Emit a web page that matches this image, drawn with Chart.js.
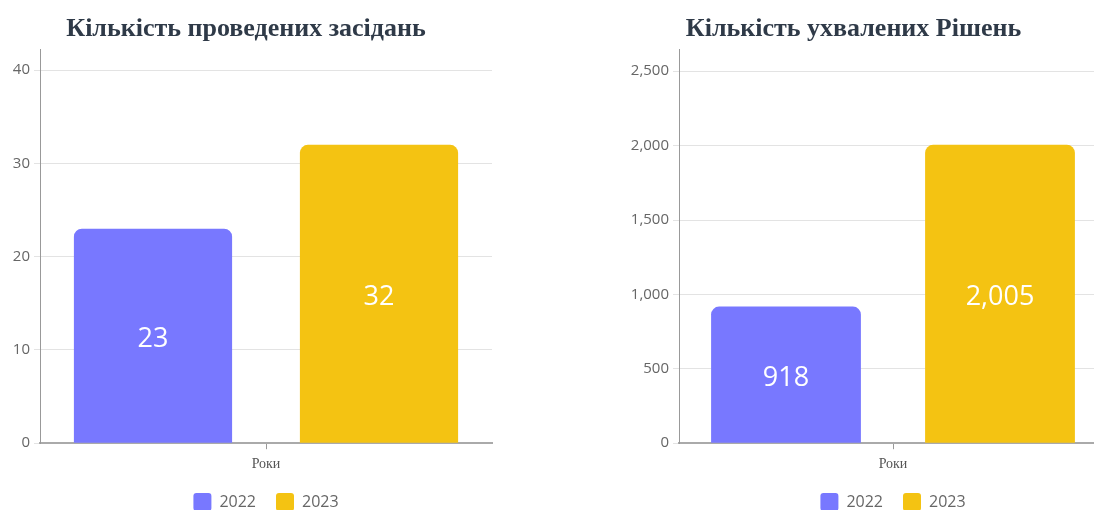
<!DOCTYPE html>
<html lang="uk">
<head>
  <meta charset="UTF-8">
  <title>Засідання та рішення</title>
  <script src="https://cdn.jsdelivr.net/npm/chart.js"></script>
  <style>
    html, body { margin: 0; padding: 0; background: #fff; overflow: hidden; }
    body { width: 1094px; height: 510px; position: relative; }
    .box { position: absolute; top: 0; height: 523px; }
    #left { left: 0; width: 497px; }
    #right { left: 600px; width: 512px; }
  </style>
</head>
<body>
  <div class="box" id="left"><canvas id="meetings-chart"></canvas></div>
  <div class="box" id="right"><canvas id="decisions-chart"></canvas></div>

  <script>
    // data
    const years = ['2022', '2023'];
    const xLabels = [''];
    const meetings = [23, 32];
    const decisions = [918, 2005];
    const meetingTicks = [0, 10, 20, 30, 40];
    const decisionTicks = [0, 500, 1000, 1500, 2000, 2500];
    const colors = ['#7878ff', '#f4c312'];

    // white number in the middle of each bar
    const barLabels = {
      id: 'barLabels',
      afterDatasetsDraw(chart) {
        const ctx = chart.ctx;
        ctx.save();
        ctx.fillStyle = '#ffffff';
        ctx.font = '27px "Open Sans"';
        ctx.textAlign = 'center';
        ctx.textBaseline = 'middle';
        chart.data.datasets.forEach((ds, i) => {
          chart.getDatasetMeta(i).data.forEach((bar, j) => {
            const y = (bar.y + bar.base) / 2 + 4;
            ctx.fillText(ds.data[j].toLocaleString('en-US'), bar.x, y);
          });
        });
        ctx.restore();
      }
    };

    // legend centred under the plot area, not the whole canvas
    const legendUnderPlot = {
      id: 'legendUnderPlot',
      afterLayout(chart) {
        const l = chart.legend;
        const shift = (chart.chartArea.left + chart.chartArea.right) / 2 - (l.left + l.right) / 2;
        l.left += shift;
        l.right += shift;
      }
    };

    function makeChart(id, title, values, ticks, yMax, yWidth) {
      const ctx = document.getElementById(id).getContext('2d');
      return new Chart(ctx, {
        type: 'bar',
        data: {
          labels: xLabels,
          datasets: years.map((y, i) => ({
            label: y,
            data: [values[i]],
            backgroundColor: colors[i],
            borderRadius: { topLeft: 8, topRight: 8 },
            borderSkipped: 'bottom',
            barPercentage: 0.7,
            categoryPercentage: 1.0
          }))
        },
        options: {
          responsive: true,
          maintainAspectRatio: false,
          animation: false,
          layout: { padding: { right: 5, top: 0, bottom: 2 } },
          plugins: {
            title: {
              display: true,
              text: title,
              color: '#2f3a48',
              font: { family: '"Liberation Serif"', size: 26, weight: 'bold' },
              padding: { top: 14, bottom: 4 }
            },
            legend: {
              position: 'bottom',
              labels: {
                color: '#666',
                font: { family: '"Open Sans"', size: 16 },
                boxWidth: 18,
                boxHeight: 18,
                useBorderRadius: true,
                borderRadius: 3,
                padding: 20
              }
            },
            tooltip: { enabled: false }
          },
          scales: {
            x: {
              grid: { drawOnChartArea: false, offset: false, tickLength: 6, color: '#999' },
              border: { color: '#aaa', width: 2 },
              ticks: { display: false },
              title: {
                display: true,
                text: 'Роки',
                color: '#555',
                font: { family: '"Liberation Serif"', size: 14 },
                padding: { top: 7, bottom: 0 }
              }
            },
            y: {
              min: 0,
              max: yMax,
              afterFit(scale) { scale.width = yWidth; },
              afterBuildTicks(scale) { scale.ticks = ticks.map(v => ({ value: v })); },
              grid: { color: '#e3e3e3', tickLength: 6 },
              border: { color: '#999', width: 1 },
              ticks: {
                color: '#666',
                font: { family: '"Open Sans"', size: 15 },
                padding: 4
              }
            }
          }
        },
        plugins: [barLabels, legendUnderPlot]
      });
    }

    makeChart('meetings-chart', 'Кількість проведених засідань', meetings, meetingTicks, 42.25, 40);
    makeChart('decisions-chart', 'Кількість ухвалених Рішень', decisions, decisionTicks, 2648, 79);
  </script>
</body>
</html>
